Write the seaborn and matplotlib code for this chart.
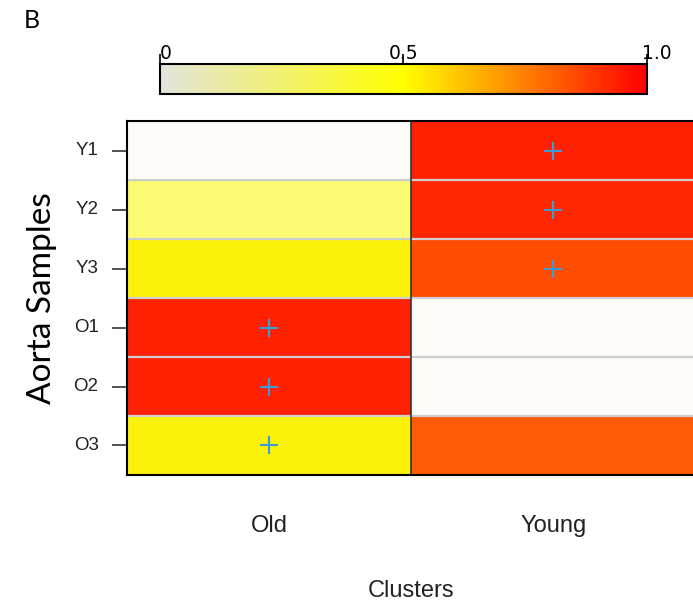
import numpy as np
import pandas as pd
import matplotlib
matplotlib.use("Agg")
import matplotlib.pyplot as plt
import matplotlib.transforms as mtransforms
import seaborn as sns
from matplotlib.colors import LinearSegmentedColormap, Normalize
from matplotlib.cm import ScalarMappable

# data
samples = ["Y1", "Y2", "Y3", "O1", "O2", "O3"]
clusters = ["Old", "Young"]
old_vals = [0.0, 0.28, 0.51, 0.93, 0.93, 0.51]
young_vals = [0.93, 0.92, 0.84, 0.0, 0.0, 0.82]
old_sig = [False, False, False, True, True, True]
young_sig = [True, True, True, False, False, False]
cbar_ticks = [0, 0.5, 1.0]
cbar_ticklabels = ["0", "0.5", "1.0"]

df = pd.DataFrame({"Old": old_vals, "Young": young_vals}, index=samples)
sig = pd.DataFrame({"Old": old_sig, "Young": young_sig}, index=samples)

cell_cmap = LinearSegmentedColormap.from_list(
    "cells", [(0, "#fdfcf8"), (0.5, "#fcf60a"), (1, "#ff0000")])
bar_cmap = LinearSegmentedColormap.from_list(
    "bar", [(0, "#e3e3dd"), (0.5, "#ffff00"), (1, "#ff0000")])

fig = plt.figure(figsize=(6.93, 6.05), dpi=100)
ax = fig.add_axes([0.1833, 0.2149, 0.82, 0.585])

sns.heatmap(df, cmap=cell_cmap, vmin=0, vmax=1, cbar=False, ax=ax, linewidths=0)

# row separators and column divider
for i in range(1, len(samples)):
    ax.axhline(i, color="#cfcfcf", lw=1.6)
ax.axvline(1, color="#333333", lw=1.2)
for s in ax.spines.values():
    s.set_visible(True)
    s.set_color("black")
    s.set_linewidth(1.5)

# significance markers
for i, name in enumerate(samples):
    for j, c in enumerate(clusters):
        if sig.loc[name, c]:
            ax.scatter(j + 0.5, i + 0.5, marker="+", s=180, color="#3d9ad6",
                       linewidths=1.5, zorder=5)

ax.set_yticks(np.arange(len(samples)) + 0.5)
ax.set_yticklabels(samples, rotation=0, fontsize=13.5, family="Liberation Sans",
                   color="#222222")
ax.tick_params(axis="y", length=10.5, width=1.2, pad=10, color="#333333")
ax.set_xticks(np.arange(len(clusters)) + 0.5)
ax.set_xticklabels(clusters, fontsize=17, family="Liberation Sans", color="#222222")
ax.tick_params(axis="x", length=0, pad=29)

ax.set_xlabel("Clusters", fontsize=17, family="Liberation Sans", color="#222222",
              labelpad=31)
ax.set_ylabel("Aorta Samples", fontsize=24, family="Lato", labelpad=12)

# colour key
cax = fig.add_axes([0.2309, 0.8446, 0.7027, 0.0496])
cb = fig.colorbar(ScalarMappable(norm=Normalize(0, 1), cmap=bar_cmap), cax=cax,
                  orientation="horizontal")
cb.outline.set_linewidth(1.5)
cax.xaxis.set_ticks_position("top")
cax.set_xticks(cbar_ticks)
cax.set_xticklabels(cbar_ticklabels, fontsize=13.5, family="DejaVu Sans")
cax.tick_params(axis="x", length=7, width=1.2, pad=-6, direction="out")
labs = cax.get_xticklabels()
for lab, ha in zip(labs, ["left", "center", "left"]):
    lab.set_ha(ha)
labs[2].set_transform(labs[2].get_transform() +
                      mtransforms.ScaledTranslation(-5 / 100, 0, fig.dpi_scale_trans))

fig.text(0.034, 0.966, "B", fontsize=18, family="Lato", va="center")

fig.savefig("out.png", dpi=100)
